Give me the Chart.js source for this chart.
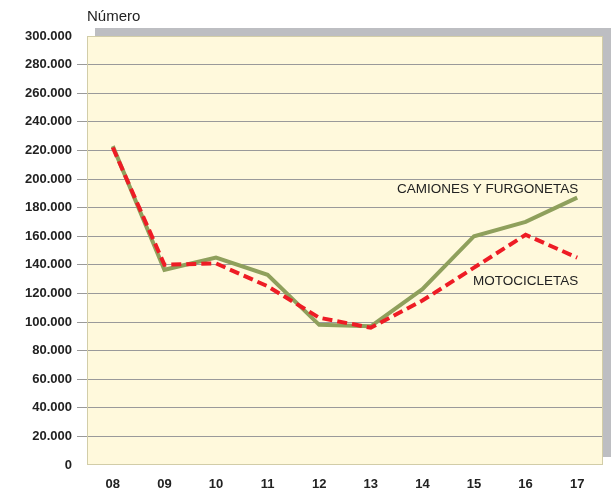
<!DOCTYPE html>
<html>
<head>
<meta charset="utf-8">
<script src="https://cdn.jsdelivr.net/npm/chart.js@4"></script>
<style>
  body { margin: 0; background: #fff; }
  #wrap { width: 615px; height: 493px; }
</style>
</head>
<body>
<div id="wrap"><canvas id="lineChart" width="615" height="493"></canvas></div>
<script>
var years = ["08", "09", "10", "11", "12", "13", "14", "15", "16", "17"];
var camiones = [223000, 136500, 145000, 133000, 98000, 97000, 123000, 160000, 170000, 187000];
var motos = [222000, 140000, 141000, 125000, 103000, 96000, 115000, 138000, 161000, 145000];
var yTicks = [0, 20000, 40000, 60000, 80000, 100000, 120000, 140000, 160000, 180000, 200000, 220000, 240000, 260000, 280000, 300000];

function fmt(v) {
    return String(v).replace(/\B(?=(\d{3})+(?!\d))/g, ".");
}

// background, shadow, border and series labels
var decor = {
    id: "decor",
    beforeDraw: function (chart) {
        var a = chart.chartArea, ctx = chart.ctx;
        ctx.save();
        ctx.fillStyle = "#BDBEC2";
        ctx.fillRect(a.left + 8, a.top - 8, a.right - a.left, a.bottom - a.top);
        ctx.fillStyle = "#FFF9DC";
        ctx.fillRect(a.left, a.top, a.right - a.left, a.bottom - a.top);
        ctx.restore();
    },
    beforeDatasetsDraw: function (chart) {
        var a = chart.chartArea, ctx = chart.ctx;
        ctx.save();
        ctx.strokeStyle = "#D2CDA8";
        ctx.lineWidth = 1;
        ctx.strokeRect(a.left + 0.5, a.top + 0.5, a.right - a.left - 1, a.bottom - a.top - 1);
        ctx.restore();
    },
    afterDraw: function (chart) {
        var ctx = chart.ctx, x = chart.scales.x, y = chart.scales.y;
        ctx.save();
        ctx.fillStyle = "#222";
        ctx.font = "13.5px 'Liberation Sans', Arial, sans-serif";
        ctx.textAlign = "right";
        ctx.textBaseline = "middle";
        var xr = x.getPixelForValue(9) + 1;
        ctx.fillText("CAMIONES Y FURGONETAS", xr, y.getPixelForValue(193000));
        ctx.fillText("MOTOCICLETAS", xr, y.getPixelForValue(128500));
        ctx.textAlign = "left";
        ctx.font = "15px 'Liberation Sans', Arial, sans-serif";
        ctx.fillText("Número", chart.chartArea.left, 17);
        ctx.restore();
    }
};

var chart = new Chart(document.getElementById("lineChart"), {
    type: "line",
    data: {
        labels: years,
        datasets: [{
            label: "CAMIONES Y FURGONETAS",
            data: camiones,
            borderColor: "#8FA05C",
            borderWidth: 4,
            pointRadius: 0,
            tension: 0,
            order: 1
        }, {
            label: "MOTOCICLETAS",
            data: motos,
            borderColor: "#EE1C25",
            borderWidth: 4,
            borderDash: [10, 5],
            pointRadius: 0,
            tension: 0,
            order: 0
        }]
    },
    options: {
        responsive: false,
        animation: false,
        layout: { padding: { left: 0, right: 12, top: 36, bottom: 0 } },
        plugins: { legend: { display: false }, tooltip: { enabled: false } },
        scales: {
            x: {
                offset: true,
                grid: { display: false },
                border: { display: false },
                ticks: {
                    color: "#222",
                    padding: 4,
                    font: { family: "'Liberation Sans', Arial, sans-serif", size: 13, weight: "bold" }
                },
                afterFit: function (s) { s.height = 28; }
            },
            y: {
                min: 0,
                max: 300000,
                afterBuildTicks: function (s) {
                    s.ticks = yTicks.map(function (v) { return { value: v }; });
                },
                grid: {
                    color: function (c) {
                        var v = c.tick.value;
                        return (v === 0 || v === 300000) ? "rgba(0,0,0,0)" : "#9A9A9A";
                    },
                    tickLength: 10,
                    tickColor: function (c) {
                        var v = c.tick.value;
                        return (v === 0 || v === 300000) ? "rgba(0,0,0,0)" : "#9A9A9A";
                    }
                },
                border: { display: false },
                ticks: {
                    color: "#222",
                    padding: 5,
                    font: { family: "'Liberation Sans', Arial, sans-serif", size: 13, weight: "bold" },
                    callback: function (v) { return fmt(v); }
                },
                afterFit: function (s) { s.width = 87; }
            }
        }
    },
    plugins: [decor]
});
</script>
</body>
</html>
